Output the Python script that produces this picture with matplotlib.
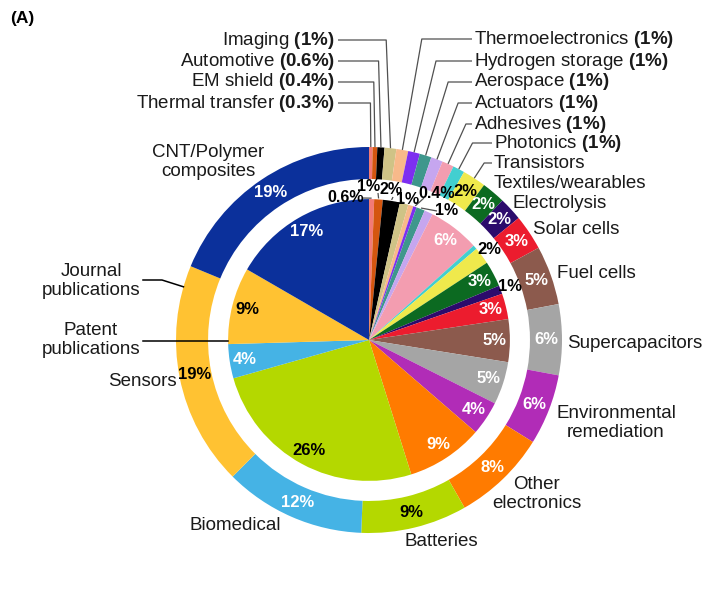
import numpy as np
import matplotlib.pyplot as plt

plt.rcParams['font.family'] = ['Liberation Sans', 'DejaVu Sans']
plt.rcParams['mathtext.fontset'] = 'custom'
plt.rcParams['mathtext.rm'] = 'Liberation Sans'
plt.rcParams['mathtext.bf'] = 'Liberation Sans:bold'

# clockwise from 12 o'clock
categories = ['Thermal transfer', 'EM shield', 'Automotive', 'Imaging', 'Thermoelectronics',
              'Hydrogen storage', 'Aerospace', 'Actuators', 'Adhesives', 'Photonics',
              'Transistors', 'Textiles/wearables', 'Electrolysis', 'Solar cells', 'Fuel cells',
              'Supercapacitors', 'Environmental remediation', 'Other electronics', 'Batteries',
              'Biomedical', 'Sensors', 'CNT/Polymer composites']
journal = [0.3, 0.4, 0.6, 1, 1, 1, 1, 1, 1, 1, 2, 2, 2, 3, 5, 6, 6, 8, 9, 12, 19, 19]
patent = [0.6, 1, 2, 1, 0.6, 0.4, 1, 1, 6, 0.5, 2, 3, 1, 3, 5, 5, 4, 9, 26, 4, 9, 17]
colors = ['#f27a76', '#d4560f', '#000000', '#cfc386', '#f8b98a', '#7d2ff0', '#3e978c',
          '#c6a6ef', '#f39db0', '#42cfd0', '#efe94c', '#0c6a21', '#2c0b6c', '#ec1c2e',
          '#8c5a4d', '#a5a5a5', '#b12cb7', '#ff7b00', '#b4d800', '#45b3e5', '#ffc232', '#0b309b']

dark_outer = ['Transistors', 'Batteries', 'Sensors']
dark_inner = ['Batteries', 'Sensors']
outside_inner = ['Transistors', 'Electrolysis']

CX, CY, R = 369, 340, 193


def px(x, y):
    return (x - CX) / R, (CY - y) / R


def mid(w, r):
    a = np.deg2rad((w.theta1 + w.theta2) / 2)
    return r * np.cos(a), r * np.sin(a)


fig = plt.figure(figsize=(7.24, 5.93), dpi=100)
ax = fig.add_axes([0, 0, 1, 1])

outer, _ = ax.pie(journal, radius=1, colors=colors, startangle=90, counterclock=False,
                  wedgeprops=dict(width=0.166, linewidth=0))
inner, _ = ax.pie(patent, radius=0.73, colors=colors, startangle=90, counterclock=False,
                  wedgeprops=dict(linewidth=0))

pct_font = dict(family=['Liberation Sans Narrow', 'Liberation Sans'], weight='bold', size=12)
small_font = dict(family=['Liberation Sans Narrow', 'Liberation Sans'], weight='bold', size=11.5)
lab_font = dict(size=13.5, color='#1a1a1a')
line_kw = dict(color='#505050', lw=0.9, solid_capstyle='butt')

for w, v, name in zip(outer, journal, categories):
    if v >= 2:
        c = 'black' if name in dark_outer else 'white'
        ax.text(*mid(w, 0.92), f"{v:g}%", color=c, ha='center', va='center', **pct_font)

for w, v, name in zip(inner, patent, categories):
    if v >= 3:
        c = 'black' if name in dark_inner else 'white'
        ax.text(*mid(w, 0.65), f"{v:g}%", color=c, ha='center', va='center', **pct_font)
    elif name in outside_inner:
        ax.text(*mid(w, 0.78), f"{v:g}%", color='black', ha='center', va='center', **pct_font)

# tiny patent slices at the top, labelled in the gap
small_inner = {'Thermal transfer': ((346, 197), (362, 198)),
               'EM shield': ((369, 186), (378, 193)),
               'Automotive': ((391, 189), (393, 197)),
               'Imaging': ((408, 199), (401, 202)),
               'Hydrogen storage': ((437, 193), (424, 198)),
               'Aerospace': ((447, 210), (437, 211))}
for name, (tpos, lpos) in small_inner.items():
    i = categories.index(name)
    ax.text(*px(*tpos), f"{patent[i]:g}%", color='black', ha='center', va='center', **small_font)
    sx, sy = px(*lpos)
    wx, wy = mid(inner[i], 0.735)
    ax.plot([sx, wx], [sy, wy], **line_kw)

# top-left labels with leaders
left_top = ['Imaging', 'Automotive', 'EM shield', 'Thermal transfer']
left_y = [40, 61, 82, 103]
for name, ty in zip(left_top, left_y):
    i = categories.index(name)
    tx, tyd = px(335, ty)
    ax.text(tx, tyd, f"{name} $\\mathbf{{({journal[i]:g}\\%)}}$", ha='right', va='center', **lab_font)
    wx, wy = mid(outer[i], 1.0)
    ax.plot([px(338, ty)[0], 0.8 * wx, wx], [tyd, tyd, wy], **line_kw)

# top-right labels with leaders
right_top = ['Thermoelectronics', 'Hydrogen storage', 'Aerospace', 'Actuators', 'Adhesives',
             'Photonics', 'Transistors']
right_x = [474, 474, 474, 474, 474, 494, 494]
right_y = [39, 61, 82, 103, 124, 143, 163]
for name, tx0, ty in zip(right_top, right_x, right_y):
    i = categories.index(name)
    tx, tyd = px(tx0, ty)
    s = name if name == 'Transistors' else f"{name} $\\mathbf{{({journal[i]:g}\\%)}}$"
    ax.text(tx, tyd, s, ha='left', va='center', **lab_font)
    wx, wy = mid(outer[i], 1.0)
    ax.plot([px(tx0 - 2, ty)[0], wx * tyd / wy, wx], [tyd, tyd, wy], **line_kw)

# other category labels
plain = [('Textiles/wearables', 494, 183, 'left'),
         ('Electrolysis', 513, 203, 'left'),
         ('Solar cells', 533, 229, 'left'),
         ('Fuel cells', 557, 273, 'left'),
         ('Supercapacitors', 567, 344, 'left'),
         ('Environmental\nremediation', 616, 423, 'center'),
         ('Other\nelectronics', 537, 494, 'center'),
         ('Batteries', 441, 542, 'center'),
         ('Biomedical', 235, 526, 'center'),
         ('Sensors', 142, 381, 'center'),
         ('CNT/Polymer\ncomposites', 208, 162, 'center'),
         ('Journal\npublications', 91, 281, 'center'),
         ('Patent\npublications', 91, 340, 'center')]
for s, x, y, ha in plain:
    ax.text(*px(x, y), s, ha=ha, va='center', multialignment='center', **lab_font)

# ring pointers
a = np.deg2rad(164)
ax.plot([px(143, 280)[0], px(162, 280)[0], np.cos(a)], [px(143, 280)[1], px(162, 280)[1], np.sin(a)],
        color='black', lw=1.1)
ax.plot([px(143, 341)[0], -0.73], [px(143, 341)[1], px(143, 341)[1]], color='black', lw=1.1)

ax.text(*px(10, 18), '(A)', ha='left', va='center', fontsize=12.5, fontweight='bold')

ax.set_xlim(px(0, 0)[0], px(724, 0)[0])
ax.set_ylim(px(0, 593)[1], px(0, 0)[1])
ax.set_aspect('equal')
ax.axis('off')

fig.savefig('out.png', dpi=100)
